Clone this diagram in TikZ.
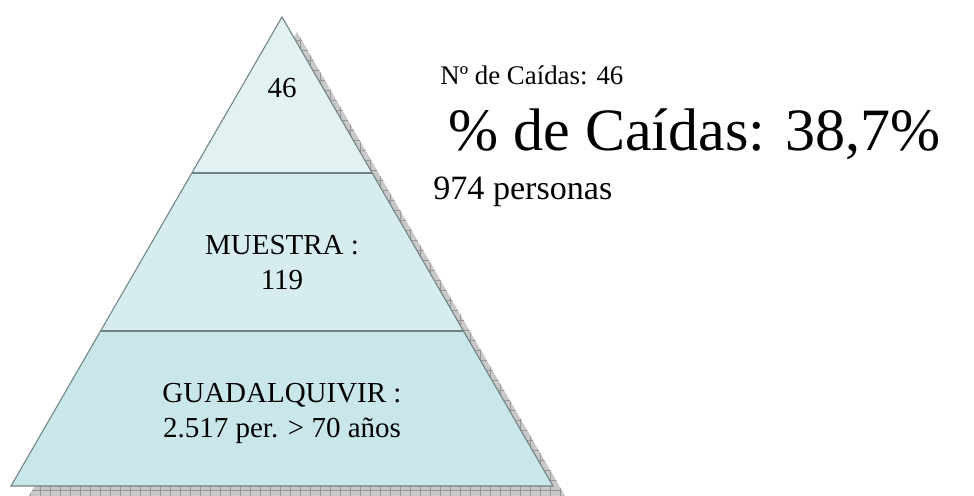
\documentclass[tikz,border=0pt]{standalone}
\usepackage{fontspec}
\setmainfont{Liberation Serif}
\usetikzlibrary{calc}
\definecolor{nivelalto}{RGB}{226,242,243}
\definecolor{nivelmedio}{RGB}{215,236,239}
\definecolor{nivelbajo}{RGB}{201,231,234}
\definecolor{borde}{RGB}{110,130,132}
\definecolor{sombra}{RGB}{200,200,200}
\definecolor{sombrarejilla}{RGB}{150,150,150}
\tikzset{
  etiqueta/.style={inner sep=0pt, font=\fontsize{16.5}{20}\selectfont, align=center},
  nota/.style={inner sep=0pt, anchor=base west}
}
\begin{document}
\begin{tikzpicture}[x=0.02cm,y=-0.02cm]
\useasboundingbox (0,0) rectangle (974,496);
\def\ta{0.3326};
\def\tb{0.6695};
\def\ds{15};
\coordinate (apex) at (282,17);
\coordinate (izq) at (11,486);
\coordinate (der) at (553,486);
\coordinate (a1) at ($(apex)!\ta!(izq)$);
\coordinate (b1) at ($(apex)!\ta!(der)$);
\coordinate (a2) at ($(apex)!\tb!(izq)$);
\coordinate (b2) at ($(apex)!\tb!(der)$);
%shadow
\begin{scope}
  \clip ($(apex)+(\ds,\ds)$) -- ($(izq)+(\ds,\ds)$) -- ($(der)+(\ds,\ds)$) -- cycle;
  \fill[sombra] (0,0) rectangle (974,520);
  \draw[sombrarejilla, line width=0.4pt, step=0.2cm] (0,0) grid (974,520);
\end{scope}
%levels
\fill[nivelbajo] (a2) -- (izq) -- (der) -- (b2) -- cycle;
\fill[nivelmedio] (a1) -- (a2) -- (b2) -- (b1) -- cycle;
\fill[nivelalto] (apex) -- (a1) -- (b1) -- cycle;
\foreach\p/\q in {a1/b1,a2/b2} {
  \draw[borde, line width=1.2pt] (\p) -- (\q);
}
\draw[borde, line width=0.6pt] (apex) -- (izq) -- (der) -- cycle;
\node[etiqueta, anchor=base] (cima) at (282,98) {46};
\node[etiqueta, anchor=base] (muestra) at (282,290) {MUESTRA :\\119};
\node[etiqueta, anchor=base] (base) at (282,438) {GUADALQUIVIR :\\2.517 per. > 70 años};
%right texts
\node[nota, font=\fontsize{15.3}{18}\selectfont] (caidas) at (440,85) {Nº de Caídas: 46};
\node[nota, font=\fontsize{34.2}{40}\selectfont] (porcentaje) at (448,151) {\% de Caídas: 38,7\%};
\node[nota, font=\fontsize{19.4}{23}\selectfont] (personas) at (433,200) {974 personas};
\end{tikzpicture}
\end{document}
